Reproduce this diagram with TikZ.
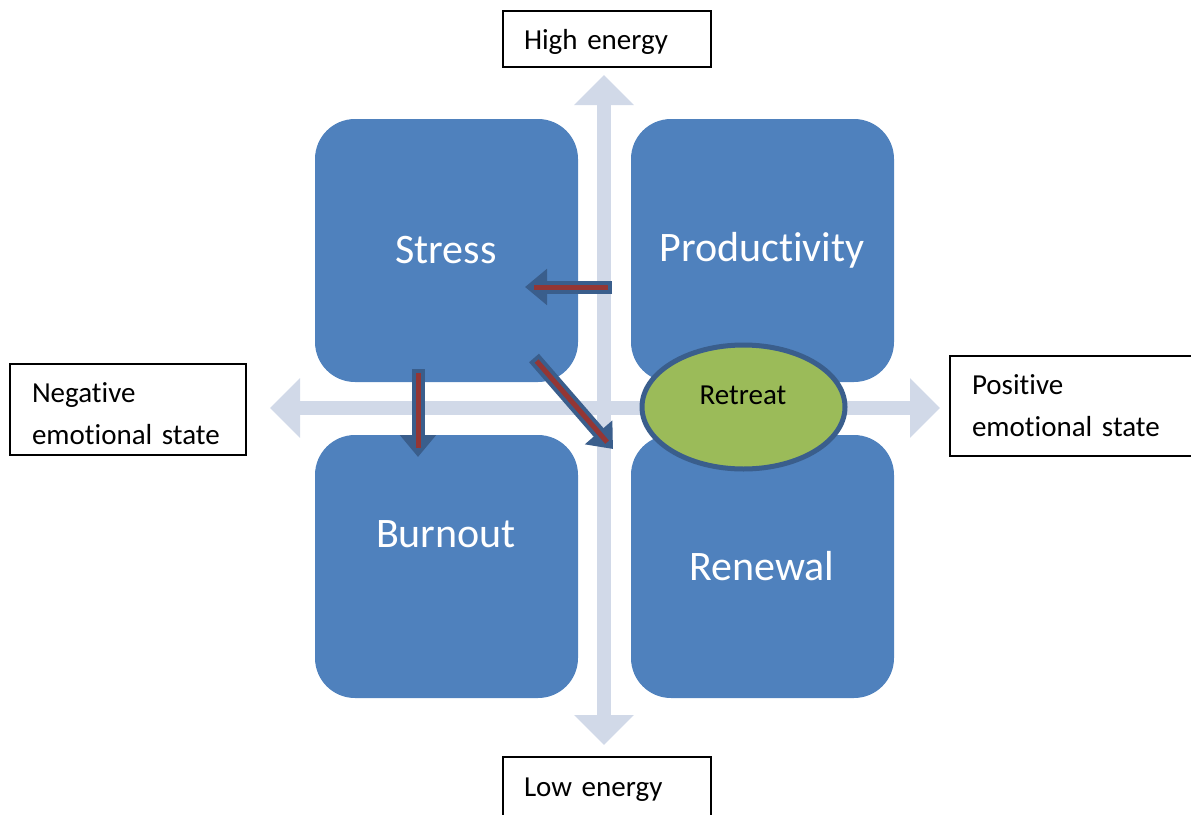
\documentclass[tikz,border=0pt]{standalone}
\usepackage{fontspec}
\setmainfont{Carlito}[Ligatures=NoCommon]
\usetikzlibrary{arrows.meta,shapes.geometric}
\definecolor{boxblue}{HTML}{4F81BD}
\definecolor{axisgray}{HTML}{D1D9E8}
\definecolor{retgreen}{HTML}{9BBB59}
\definecolor{edgeblue}{HTML}{3A5E8C}
\definecolor{arrowred}{HTML}{943634}
\tikzset{
  quad/.style={fill=boxblue, draw=none, rounded corners=40pt, minimum width=263pt, minimum height=263pt, inner sep=0pt},
  quadtext/.style={text=white, font=\fontsize{42}{50}\selectfont, inner sep=0pt},
  axisline/.style={draw=axisgray, line width=14pt, {Triangle[width=58pt,length=30pt]}-{Triangle[width=58pt,length=30pt]}},
  lbl/.style={draw=black, line width=1.6pt, fill=white, align=left, font=\fontsize{29}{42}\selectfont, inner ysep=0pt},
  moveout/.style={draw=edgeblue, line width=13pt, -{Triangle[width=35pt,length=22pt]}},
  movein/.style={draw=arrowred, line width=5pt, shorten <=4pt, shorten >=9pt},
}
\begin{document}
\begin{tikzpicture}[x=1pt,y=-1pt]
\useasboundingbox (0,0) rectangle (1191,814);
\clip (0,0) rectangle (1191,814);
% axes
\coordinate (vtop) at (604,75);
\coordinate (vbot) at (604,745);
\coordinate (hleft) at (270,408);
\coordinate (hright) at (940,408);
\draw[axisline] (vbot) -- (vtop);
\draw[axisline] (hleft) -- (hright);
% quadrants
\node[quad] (stress) at (446.5,250.5) {};
\node[quad] (productivity) at (762.5,250.5) {};
\node[quad] (burnout) at (446.5,566.5) {};
\node[quad] (renewal) at (762.5,566.5) {};
\node[quadtext] (stresst) at (446,250) {Stress};
\node[quadtext] (productivityt) at (762,250) {Productivity};
\node[quadtext] (burnoutt) at (446,534) {Burnout};
\node[quadtext] (renewalt) at (762,566) {Renewal};
% retreat
\node[ellipse, fill=retgreen, draw=edgeblue, line width=5pt, minimum width=203pt, minimum height=124pt] (retreat) at (743.5,407) {};
\node[font=\fontsize{29}{35}\selectfont, inner sep=0pt] (retreatt) at (743,395) {Retreat};
% movement arrows
\coordinate (l1) at (612,287);
\coordinate (l2) at (525,287);
\coordinate (d1) at (534,358);
\coordinate (d2) at (613,449);
\coordinate (b1) at (418,369);
\coordinate (b2) at (418,457);
\draw[moveout] (l1) -- (l2);
\draw[movein] (l1) -- (l2);
\draw[moveout] (d1) -- (d2);
\draw[movein] (d1) -- (d2);
\draw[moveout] (b1) -- (b2);
\draw[movein] (b1) -- (b2);
% labels
\node[lbl, minimum width=208pt, minimum height=56pt, text width=166pt, inner xsep=21pt, text depth=-4pt] (high) at (607,39) {High energy};
\node[lbl, minimum width=208pt, minimum height=60pt, text width=166pt, inner xsep=21pt, text depth=0pt] (low) at (607,787) {Low energy};
\node[lbl, minimum width=236pt, minimum height=91pt, text width=192pt, inner xsep=22pt, text depth=34pt] (neg) at (128,409.5) {Negative\\emotional state};
\node[lbl, minimum width=250pt, minimum height=100pt, text width=206pt, inner xsep=22pt] (pos) at (1075,406) {Positive\\emotional state};
\end{tikzpicture}
\end{document}
